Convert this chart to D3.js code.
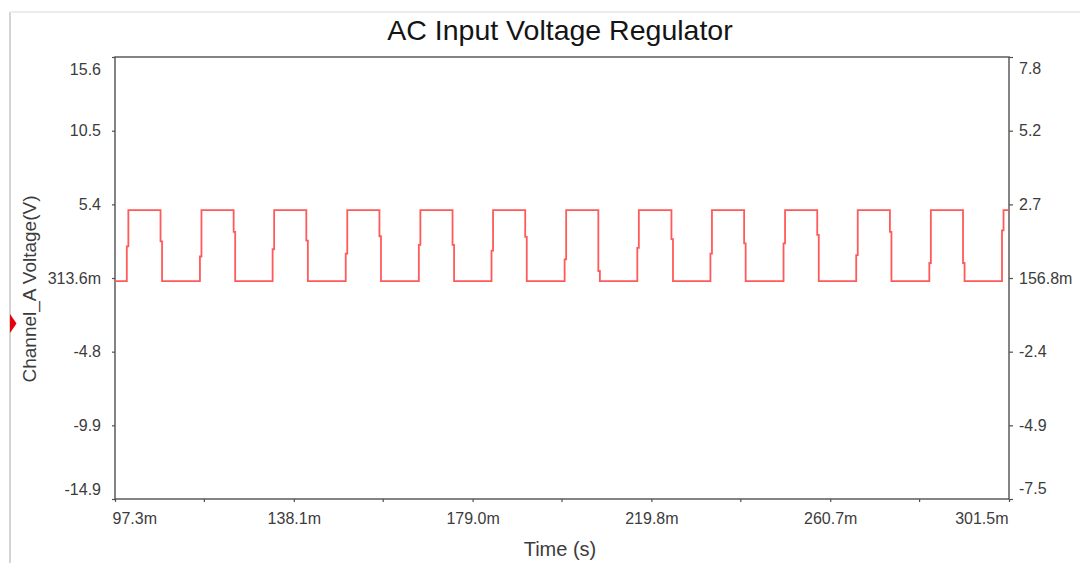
<!DOCTYPE html>
<html>
<head>
<meta charset="utf-8">
<script src="https://cdn.jsdelivr.net/npm/d3@7"></script>
<style>
  html, body { margin: 0; padding: 0; background: #fff; }
  svg { display: block; }
  text { font-family: "Liberation Sans", Arial, sans-serif; }
</style>
</head>
<body>
<svg id="chart" width="1080" height="563"></svg>
<script>
// ---- data (time in ms, voltage in V) ----
const timeDomain = [97.3, 301.5];
const timeTickValues = [97.3, 138.14, 178.98, 219.82, 260.66, 301.5];
const timeTickLabels = ["97.3m", "138.1m", "179.0m", "219.8m", "260.7m", "301.5m"];
const timeMinorTicks = [117.72, 158.56, 199.4, 240.24, 281.08];

const leftDomain = [-14.95, 15.58];
const leftTickValues = [-14.95, -9.862, -4.773, 0.3136, 5.40, 10.49, 15.58];
const leftTickLabels = ["-14.9", "-9.9", "-4.8", "313.6m", "5.4", "10.5", "15.6"];

const rightDomain = [-7.475, 7.79];
const rightTickValues = [-7.475, -4.931, -2.387, 0.1568, 2.70, 5.245, 7.79];
const rightTickLabels = ["-7.5", "-4.9", "-2.4", "156.8m", "2.7", "5.2", "7.8"];

// square wave of Channel_A: edge instants and the intermediate sample on each edge
const lowLevel = 0.1;
const highLevel = 5.0;
const edgeSample = 0.35;  // ms between samples across an edge
const riseTimes = [100.0, 116.7, 133.3, 150.0, 166.7, 183.3, 200.0, 216.6, 233.3, 250.0, 266.6, 283.3, 299.9];
const riseMid   = [2.5, 1.8, 2.3, 2.0, 2.6, 2.2, 1.6, 2.4, 2.0, 2.7, 1.9, 1.35, 3.6];
const fallTimes = [107.7, 124.4, 141.0, 157.7, 174.4, 191.0, 207.7, 224.4, 241.0, 257.7, 274.3, 291.0];
const fallMid   = [2.85, 3.5, 2.9, 3.2, 2.6, 3.15, 0.8, 3.0, 2.7, 3.3, 3.5, 1.35];

// ---- layout ----
const W = 1080, H = 563;
const plot = { left: 115, right: 1009, top: 57, bottom: 499 };

const svg = d3.select("#chart");

// outer panel border (light gray, left and top)
svg.append("line").attr("x1", 10).attr("x2", 10).attr("y1", 12).attr("y2", H)
  .attr("stroke", "#d4d4d4").attr("stroke-width", 2);
svg.append("line").attr("x1", 10).attr("x2", W).attr("y1", 12).attr("y2", 12)
  .attr("stroke", "#ececec").attr("stroke-width", 2);

// cursor marker on the left edge
svg.append("path")
  .attr("d", "M10,314 L16.5,323.5 L10,333 Z")
  .attr("fill", "#e8000b");

const x = d3.scaleLinear().domain(timeDomain).range([plot.left, plot.right]);
const yL = d3.scaleLinear().domain(leftDomain).range([plot.bottom, plot.top]);
const yR = d3.scaleLinear().domain(rightDomain).range([plot.bottom, plot.top]);

const axisColor = "#505050";
const labelColor = "#3c3c3c";

function styleAxis(g) {
  g.select(".domain").remove();
  g.selectAll(".tick line").attr("stroke", axisColor).attr("stroke-width", 1.2);
  g.selectAll(".tick text").attr("fill", labelColor)
    .style("font-size", "16px").style("font-family", '"Liberation Sans", Arial, sans-serif');
}

// left axis
const gL = svg.append("g").attr("transform", `translate(${plot.left},0)`)
  .call(d3.axisLeft(yL).tickValues(leftTickValues)
    .tickFormat((d, i) => leftTickLabels[i]).tickSize(3).tickPadding(11))
  .call(styleAxis);
gL.selectAll(".tick text").filter((d, i) => i === leftTickValues.length - 1).attr("dy", "1.1em");
gL.selectAll(".tick text").filter((d, i) => i === 0).attr("dy", "-0.3em");

// right axis
const gR = svg.append("g").attr("transform", `translate(${plot.right},0)`)
  .call(d3.axisRight(yR).tickValues(rightTickValues)
    .tickFormat((d, i) => rightTickLabels[i]).tickSize(4).tickPadding(6))
  .call(styleAxis);
gR.selectAll(".tick text").filter((d, i) => i === rightTickValues.length - 1).attr("dy", "1.05em");
gR.selectAll(".tick text").filter((d, i) => i === 0).attr("dy", "-0.35em");

// bottom axis with minor ticks
const gB = svg.append("g").attr("transform", `translate(0,${plot.bottom})`)
  .call(d3.axisBottom(x).tickValues(timeTickValues)
    .tickFormat((d, i) => timeTickLabels[i]).tickSize(3).tickPadding(11))
  .call(styleAxis);
gB.selectAll(".tick text").filter((d, i) => i === 0).attr("text-anchor", "start").attr("dx", -3);
gB.selectAll(".tick text").filter((d, i) => i === timeTickValues.length - 1).attr("text-anchor", "end").attr("dx", -1);
gB.selectAll(".minor").data(timeMinorTicks).enter().append("line")
  .attr("class", "minor")
  .attr("x1", d => x(d)).attr("x2", d => x(d))
  .attr("y1", 0).attr("y2", 3)
  .attr("stroke", axisColor).attr("stroke-width", 1.2);

// plot frame
svg.append("rect")
  .attr("x", plot.left).attr("y", plot.top)
  .attr("width", plot.right - plot.left).attr("height", plot.bottom - plot.top)
  .attr("fill", "none").attr("stroke", axisColor).attr("stroke-width", 1.4);

// waveform points from the edge lists
const pts = [{ t: timeDomain[0], v: lowLevel }];
riseTimes.forEach((tr, i) => {
  pts.push({ t: tr, v: lowLevel }, { t: tr, v: riseMid[i] },
           { t: tr + edgeSample, v: riseMid[i] }, { t: tr + edgeSample, v: highLevel });
  if (i < fallTimes.length) {
    const tf = fallTimes[i];
    pts.push({ t: tf, v: highLevel }, { t: tf, v: fallMid[i] },
             { t: tf + edgeSample, v: fallMid[i] }, { t: tf + edgeSample, v: lowLevel });
  }
});
pts.push({ t: timeDomain[1], v: highLevel });

const line = d3.line().x(d => x(d.t)).y(d => yL(d.v));
svg.append("path")
  .datum(pts)
  .attr("d", line)
  .attr("fill", "none")
  .attr("stroke", "#ff5a5a")
  .attr("stroke-width", 1.8)
  .attr("stroke-linejoin", "miter");

// titles
svg.append("text")
  .attr("x", 560).attr("y", 40)
  .attr("text-anchor", "middle")
  .style("font-size", "28.5px")
  .attr("fill", "#141414")
  .text("AC Input Voltage Regulator");

svg.append("text")
  .attr("x", 560).attr("y", 556)
  .attr("text-anchor", "middle")
  .style("font-size", "20px")
  .attr("fill", "#3c3c3c")
  .text("Time (s)");

svg.append("text")
  .attr("transform", "translate(36,289) rotate(-90)")
  .attr("text-anchor", "middle")
  .style("font-size", "19px")
  .attr("fill", "#3c3c3c")
  .text("Channel_A Voltage(V)");
</script>
</body>
</html>
